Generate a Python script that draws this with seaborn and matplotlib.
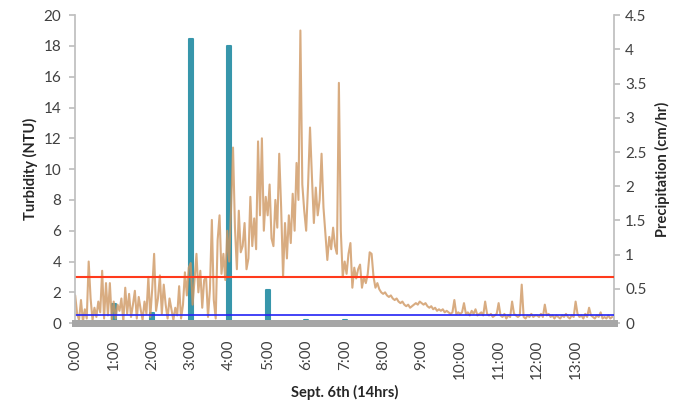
import numpy as np
import pandas as pd
import matplotlib
matplotlib.use("Agg")
import matplotlib.pyplot as plt
import seaborn as sns

# turbidity (NTU), 3-minute readings, one row per hour 0:00 .. 13:00
turbidity = [
    1.8, 0.6, 0.2, 1.5, 0.1, 0.9, 0.3, 4.0, 1.6, 0.2, 1.0, 0.4, 1.4, 0.7, 3.4, 0.3, 2.6, 0.5, 2.6, 0.2,
    1.4, 0.3, 1.2, 0.8, 1.6, 0.1, 2.3, 0.6, 1.9, 0.4, 1.2, 2.1, 0.3, 1.7, 0.9, 0.2, 1.4, 0.6, 3.0, 0.4,
    2.2, 4.5, 0.8, 1.6, 3.1, 0.6, 2.5, 1.2, 0.3, 1.6, 0.9, 0.2, 1.0, 0.5, 2.4, 0.3, 1.2, 3.3, 1.8, 3.6,
    3.9, 1.2, 2.8, 4.5, 2.0, 3.4, 1.0, 2.8, 3.0, 0.4, 2.2, 6.7, 1.5, 0.3, 5.4, 7.0, 3.2, 4.5, 2.8, 6.0,
    4.0, 7.5, 11.4, 6.2, 3.5, 7.3, 4.6, 5.0, 6.5, 3.5, 4.2, 8.2, 5.0, 6.8, 4.8, 11.8, 7.0, 12.0, 6.0, 8.2,
    7.0, 9.0, 5.5, 5.0, 8.0, 6.2, 11.0, 7.5, 3.0, 6.5, 4.2, 7.0, 5.2, 8.4, 6.0, 10.4, 8.0, 19.0, 9.0, 7.3,
    6.0, 9.0, 12.7, 9.5, 6.5, 8.8, 7.0, 8.0, 11.0, 7.5, 5.8, 4.1, 5.6, 4.8, 6.2, 5.0, 4.5, 15.6, 6.0, 3.0,
    4.0, 3.2, 4.5, 5.2, 2.3, 3.6, 2.9, 3.5, 3.8, 2.3, 3.0, 2.6, 3.2, 4.6, 4.5, 3.0, 2.3, 2.6, 2.2, 2.0,
    1.9, 2.0, 1.8, 1.7, 1.8, 1.6, 1.5, 1.6, 1.4, 1.3, 1.4, 1.2, 1.1, 1.2, 1.0, 1.1, 1.2, 1.3, 1.2, 1.4,
    1.3, 1.2, 1.3, 1.1, 1.0, 1.1, 0.9, 1.0, 0.8, 0.9, 0.8, 0.9, 0.7, 0.8, 0.7, 0.6, 0.7, 1.5, 0.6, 0.7,
    0.6, 0.7, 1.3, 0.6, 0.7, 0.5, 0.8, 0.6, 0.9, 0.5, 0.6, 0.7, 0.5, 1.4, 0.6, 0.5, 0.6, 0.4, 0.5, 0.6,
    1.3, 0.5, 0.4, 0.6, 0.3, 0.5, 0.4, 1.4, 0.6, 0.5, 0.4, 0.5, 2.5, 0.4, 0.3, 0.5, 0.4, 0.6, 0.4, 0.5,
    0.5, 0.4, 0.6, 0.4, 1.2, 0.5, 0.6, 0.4, 0.5, 0.3, 0.5, 0.4, 0.3, 0.5, 0.4, 0.6, 0.4, 0.3, 0.5, 0.4,
    1.4, 0.6, 0.4, 0.5, 0.3, 0.6, 0.4, 1.0, 0.5, 0.4, 0.3, 0.5, 0.4, 0.7, 0.3, 0.4, 0.3, 0.5, 0.3, 0.4,
]
time_hours = np.arange(len(turbidity)) / 20.0

# hourly precipitation (cm/hr)
precip_hours = [0, 1, 2, 3, 4, 5, 6, 7, 13]
precip = [0.03, 0.28, 0.15, 4.15, 4.05, 0.48, 0.05, 0.04, 0.03]

upper_limit = 3.0   # NTU
lower_limit = 0.5   # NTU

tick_hours = list(range(14))
tick_labels = [f"{h}:00" for h in tick_hours]
precip_ticks = ["0", "0.5", "1", "1.5", "2", "2.5", "3", "3.5", "4", "4.5"]

sns.set_theme(style="white")
plt.rcParams["font.family"] = ["Lato", "DejaVu Sans"]

turb_df = pd.DataFrame({"hour": time_hours, "turbidity": turbidity})
rain_df = pd.DataFrame({"hour": precip_hours, "precip": precip})

fig = plt.figure(figsize=(6.9, 4.08), dpi=100)
ax = fig.add_axes([0.109, 0.208, 0.781, 0.755])
ax2 = ax.twinx()

sns.barplot(data=rain_df, x="hour", y="precip", native_scale=True,
            width=0.11, color="#3796ab", saturation=1, ax=ax2,
            edgecolor="#3796ab", linewidth=1.5)
for p in ax2.patches:
    p.set_joinstyle("round")
ax2.set_ylim(0, 4.5)
ax2.set_yticks(np.arange(0, 4.51, 0.5))
ax2.set_yticklabels(precip_ticks)
ax2.set_ylabel("Precipitation (cm/hr)", fontsize=10.5, fontweight="bold",
               color="#262626", labelpad=6)

# turbidity axes drawn over the bars
ax.set_zorder(ax2.get_zorder() + 1)
ax.patch.set_visible(False)

sns.lineplot(data=turb_df, x="hour", y="turbidity", color="#cf9762",
             lw=1.5, alpha=0.8, ax=ax)
ax.axhline(upper_limit, color="#ff3a1c", lw=1.5)
ax.axhline(lower_limit, color="#2323f5", lw=1.2)

ax.set_xlim(0, 14)
ax.set_ylim(0, 20)
ax.set_yticks(range(0, 21, 2))
ax.set_xticks(tick_hours)
ax.set_xticklabels(tick_labels, rotation=90)
ax.set_xlabel("Sept. 6th (14hrs)", fontsize=10.5, fontweight="bold", color="#262626")
ax.set_ylabel("Turbidity (NTU)", fontsize=10.5, fontweight="bold", color="#262626",
              labelpad=4)
ax2.set_xlabel("")

for a in (ax, ax2):
    a.spines["top"].set_visible(False)
    a.spines["left"].set_color("#bfbfbf")
    a.spines["right"].set_color("#bfbfbf")
    a.spines["bottom"].set_color("#a6a6a6")
    a.spines["bottom"].set_linewidth(5)
    a.tick_params(axis="both", labelsize=11, labelcolor="#404040")
ax.tick_params(axis="y", left=True, length=4, color="#bfbfbf", pad=6)
ax2.tick_params(axis="y", right=True, length=4, color="#bfbfbf", pad=4)
ax.tick_params(axis="x", bottom=False, pad=6)
ax2.tick_params(axis="x", bottom=False, labelbottom=False)
ax.spines["right"].set_visible(False)
ax2.spines["left"].set_visible(False)

fig.savefig("out.png", dpi=100)
